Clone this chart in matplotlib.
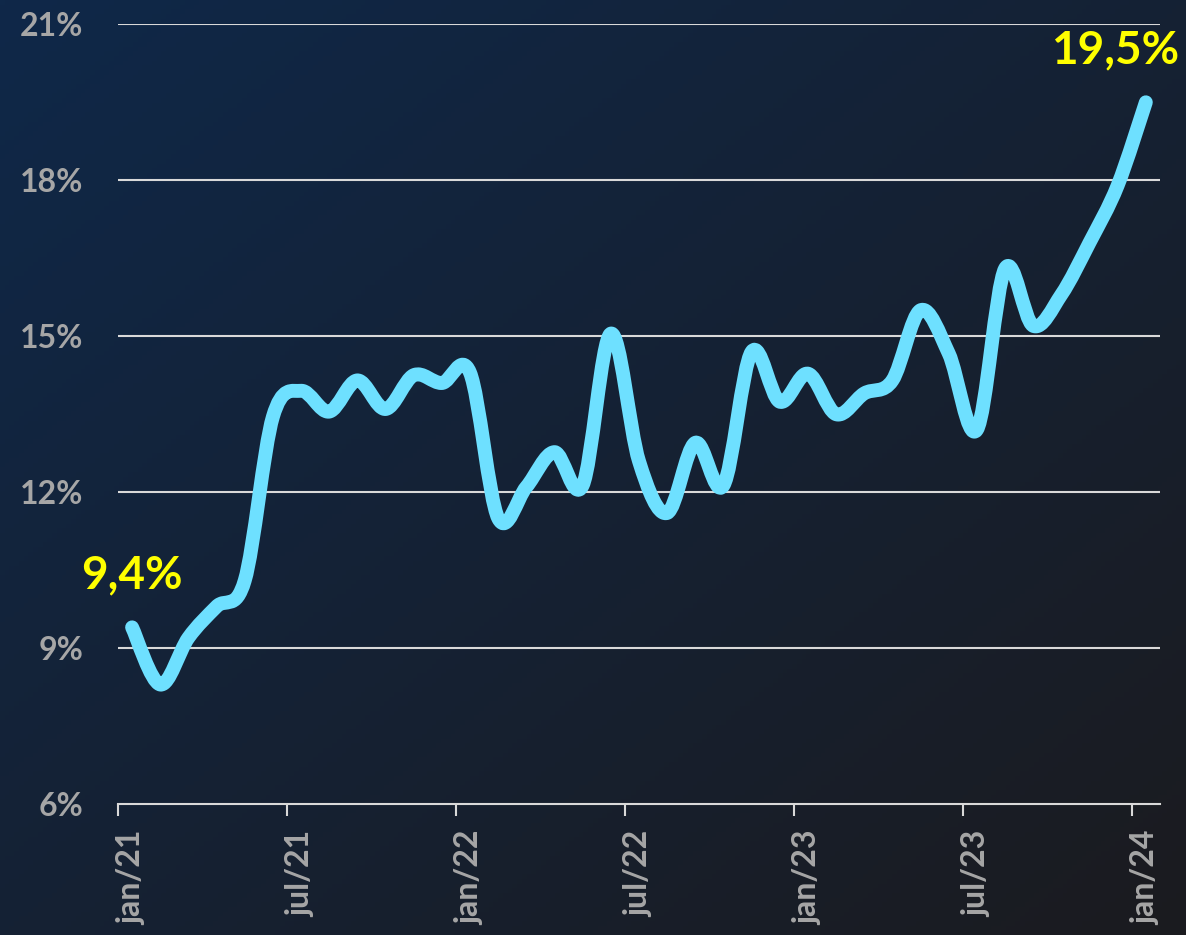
import numpy as np
import matplotlib
matplotlib.use("Agg")
import matplotlib.pyplot as plt
from matplotlib.path import Path
from matplotlib.patches import PathPatch

# Dados: taxa mensal, jan/21 a jan/24
meses = ["jan/21", "fev/21", "mar/21", "abr/21", "mai/21", "jun/21",
         "jul/21", "ago/21", "set/21", "out/21", "nov/21", "dez/21",
         "jan/22", "fev/22", "mar/22", "abr/22", "mai/22", "jun/22",
         "jul/22", "ago/22", "set/22", "out/22", "nov/22", "dez/22",
         "jan/23", "fev/23", "mar/23", "abr/23", "mai/23", "jun/23",
         "jul/23", "ago/23", "set/23", "out/23", "nov/23", "dez/23",
         "jan/24"]
taxa = [9.4, 8.3, 9.2, 9.8, 10.3, 13.45,
        13.95, 13.55, 14.15, 13.6, 14.25, 14.1,
        14.3, 11.5, 12.1, 12.77, 12.13, 15.05,
        12.6, 11.6, 12.95, 12.13, 14.7, 13.74,
        14.28, 13.5, 13.9, 14.15, 15.5, 14.67,
        13.2, 16.3, 15.2, 15.8, 16.8, 17.9,
        19.5]
yticks = [6, 9, 12, 15, 18, 21]
destaques = {0: "9,4%", 36: "19,5%"}

cor_linha = "#6ee0ff"
cor_texto = "#a6a6a6"
cor_grade = "#d9d9d9"

plt.rcParams["font.family"] = ["Lato", "DejaVu Sans"]

fig = plt.figure(figsize=(11.86, 9.35), dpi=100)

# Fundo em degradê (diagonal)
bg = fig.add_axes([0, 0, 1, 1], zorder=-10)
h, w = 200, 250
yy, xx = np.mgrid[0:1:h * 1j, 0:1:w * 1j]
t = np.clip((xx + yy) / 2.0, 0, 1)[..., None]
c0 = np.array([15, 40, 73]) / 255.0
c1 = np.array([27, 27, 31]) / 255.0
bg.imshow(c0 * (1 - t) + c1 * t, aspect="auto", extent=[0, 1, 0, 1])
bg.axis("off")

ax = fig.add_axes([0.0995, 0.140, 0.8785, 0.834])
ax.set_facecolor("none")

# Linha suavizada (Bezier tipo Excel)
x = np.arange(len(taxa), dtype=float)
y = np.array(taxa, dtype=float)
verts = [(x[0], y[0])]
codes = [Path.MOVETO]
n = len(x)
for i in range(n - 1):
    p0 = np.array([x[max(i - 1, 0)], y[max(i - 1, 0)]])
    p1 = np.array([x[i], y[i]])
    p2 = np.array([x[i + 1], y[i + 1]])
    p3 = np.array([x[min(i + 2, n - 1)], y[min(i + 2, n - 1)]])
    c_a = p1 + (p2 - p0) / 6.0
    c_b = p2 - (p3 - p1) / 6.0
    verts += [tuple(c_a), tuple(c_b), tuple(p2)]
    codes += [Path.CURVE4] * 3
ax.add_patch(PathPatch(Path(verts, codes), facecolor="none", edgecolor=cor_linha,
                       lw=10, capstyle="round", joinstyle="round", zorder=3))

for i, txt in destaques.items():
    dx = -22 if i == n - 1 else 0
    ax.annotate(txt, (x[i], y[i]), xytext=(dx, 22), textcoords="offset points",
                ha="center", va="bottom", fontsize=33, fontweight="bold",
                color="#ffff00", zorder=4)

ax.set_xlim(-0.5, n - 0.5)
ax.set_ylim(6, 21)

ax.set_yticks(yticks)
ax.set_yticklabels([f"{v}%" for v in yticks])
for v in yticks[1:]:
    ax.axhline(v, color=cor_grade, lw=1.5, zorder=1)

ax.set_xticks(x[::6])
ax.set_xticklabels(meses[::6], rotation=90)
ax.set_xticks(np.arange(-0.5, n, 6), minor=True)

for s in ["top", "right", "left"]:
    ax.spines[s].set_visible(False)
ax.spines["bottom"].set_color(cor_grade)
ax.spines["bottom"].set_linewidth(1.5)

ax.tick_params(axis="y", length=0, pad=25, labelsize=23, labelcolor=cor_texto)
ax.tick_params(axis="x", which="major", length=0, pad=19, labelsize=23,
               labelcolor=cor_texto)
ax.tick_params(axis="x", which="minor", length=8.5, width=1.5, color=cor_grade)
for lbl in ax.get_xticklabels() + ax.get_yticklabels():
    lbl.set_fontweight("bold")

fig.savefig("out.png", dpi=100)
